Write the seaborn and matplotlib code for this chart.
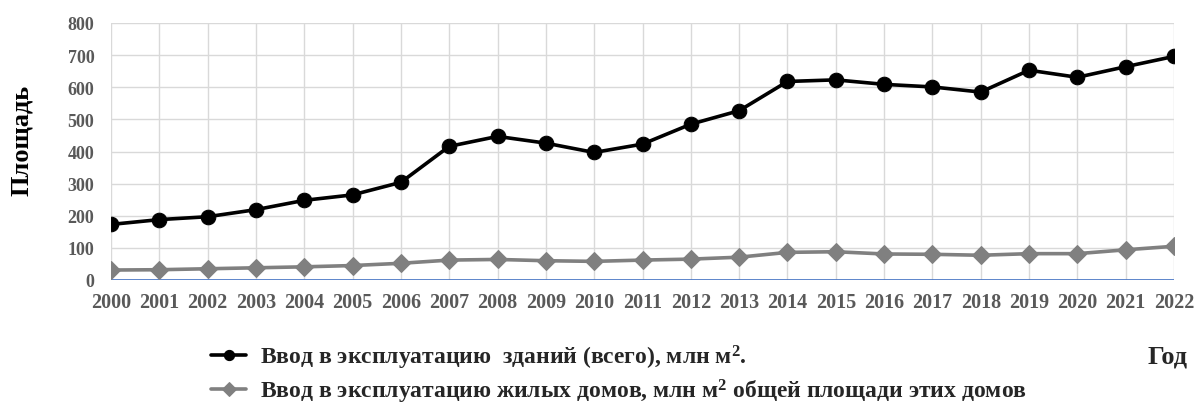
import pandas as pd
import seaborn as sns
import matplotlib.pyplot as plt

# годы и значения (млн м2)
years = list(range(2000, 2023))
total = [173, 188, 197, 219, 248, 265, 304, 416, 447, 426, 397, 423,
         485, 527, 618, 623, 609, 601, 585, 653, 631, 664, 696]
housing = [31, 32, 35, 38, 41, 45, 52, 62, 64, 60, 58, 62,
           65, 71, 86, 88, 81, 80, 77, 82, 82, 94, 105]

label_total = "Ввод в эксплуатацию  зданий (всего), млн м$^2$."
label_housing = "Ввод в эксплуатацию жилых домов, млн м$^2$ общей площади этих домов"

df = pd.DataFrame({"Год": years, "total": total, "housing": housing})

sns.set_style("white")
plt.rcParams["font.family"] = ["Liberation Serif", "DejaVu Serif"]
plt.rcParams["font.weight"] = "bold"
plt.rcParams["mathtext.default"] = "regular"

fig = plt.figure(figsize=(11.95, 4.06), dpi=100)
ax = fig.add_axes([111 / 1195, 1 - 281 / 406, (1174 - 111) / 1195, (281 - 24) / 406])

sns.lineplot(data=df, x="Год", y="total", ax=ax, color="black", linewidth=2.6,
             marker="o", markersize=10.5, markeredgecolor="black", label=label_total)
sns.lineplot(data=df, x="Год", y="housing", ax=ax, color="#808080", linewidth=2.6,
             marker="D", markersize=9.5, markeredgecolor="#808080", label=label_housing)

ax.set_xlim(2000, 2022)
ax.set_ylim(0, 800)
ax.set_xticks(years)
ax.set_yticks(range(0, 801, 100))
ax.grid(True, color="#d9d9d9", linewidth=1)
for s in ax.spines.values():
    s.set_visible(False)
ax.axhline(0, color="#4472C4", linewidth=1.2, zorder=1)
ax.tick_params(length=0, colors="#595959")
ax.tick_params(axis="x", pad=9)
ax.tick_params(axis="y", pad=12)
for t in ax.get_xticklabels():
    t.set_fontsize(14.5)
    t.set_fontweight("bold")
for t in ax.get_yticklabels():
    t.set_fontsize(13)
    t.set_fontweight("bold")

ax.set_xlabel("")
ax.set_ylabel("Площадь", fontsize=19, fontweight="bold", color="black")
ax.yaxis.set_label_coords(-0.073, 0.545)
fig.text(1188 / 1195, 1 - 357 / 406, "Год", fontsize=19, fontweight="bold",
         ha="right", va="center")

ax.legend(loc="upper left", bbox_to_anchor=(199 / 1195, 1 - 332 / 406),
          bbox_transform=fig.transFigure, frameon=False, borderpad=0,
          prop={"weight": "bold", "size": 17}, handlelength=1.5,
          handletextpad=0.6, labelspacing=0.25, markerscale=0.7)

fig.savefig("out.png", dpi=100)
